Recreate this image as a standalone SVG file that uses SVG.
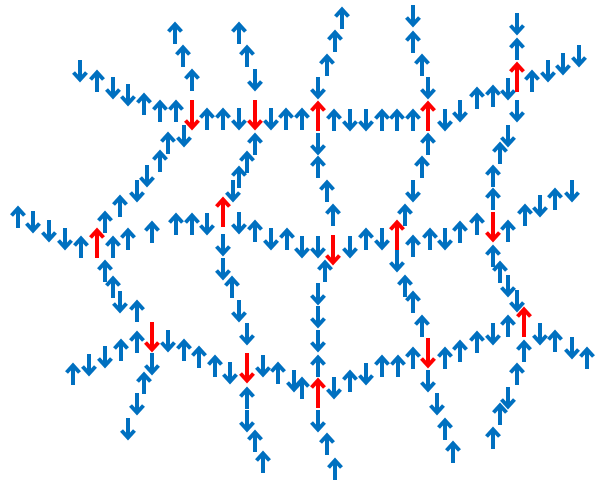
<svg xmlns="http://www.w3.org/2000/svg" width="600" height="481" viewBox="0 0 600 481">
<style>
.b{stroke:#0070C0;stroke-width:4;fill:none;stroke-linejoin:miter;stroke-miterlimit:10}
.r{stroke:#FF0000;stroke-width:4;fill:none;stroke-linejoin:miter;stroke-miterlimit:10}
</style>
<defs>
<path id="u" class="b" d="M0,11V-8M-6.5,-1.5L0,-8.5L6.5,-1.5"/>
<path id="d" class="b" d="M0,-11V8M-6.5,1.5L0,8.5L6.5,1.5"/>
<path id="U" class="r" d="M0,15V-12M-6.5,-5.5L0,-12.5L6.5,-5.5"/>
<path id="D" class="r" d="M0,-15V12M-6.5,5.5L0,12.5L6.5,5.5"/>
</defs>
<rect width="600" height="481" fill="#fff"/>
<g id="links">
<g id="row1">
<use href="#d" x="80" y="71"/><use href="#u" x="97" y="81"/><use href="#d" x="113" y="88"/><use href="#d" x="128" y="95"/><use href="#u" x="144" y="104"/><use href="#u" x="160" y="111"/><use href="#u" x="176" y="111"/>
<use href="#u" x="207" y="119"/><use href="#u" x="223" y="119"/><use href="#d" x="239" y="119"/>
<use href="#d" x="271" y="119"/><use href="#u" x="286" y="119"/><use href="#u" x="302" y="119"/>
<use href="#u" x="334" y="120"/><use href="#d" x="350" y="120"/><use href="#d" x="366" y="120"/><use href="#u" x="382" y="120"/><use href="#u" x="397" y="120"/><use href="#u" x="413" y="120"/>
<use href="#d" x="445" y="120"/><use href="#d" x="460" y="111"/><use href="#u" x="477" y="98"/><use href="#u" x="493" y="96"/><use href="#d" x="508" y="89"/>
<use href="#u" x="532" y="81"/><use href="#d" x="548" y="71"/><use href="#d" x="563" y="64"/><use href="#d" x="579" y="56"/>
</g>
<g id="top-chains">
<use href="#u" x="175" y="33"/><use href="#u" x="183" y="56"/><use href="#u" x="192" y="80"/>
<use href="#u" x="239" y="33"/><use href="#u" x="247" y="56"/><use href="#d" x="255" y="80"/>
<use href="#u" x="342" y="18"/><use href="#u" x="335" y="41"/><use href="#u" x="327" y="65"/><use href="#d" x="318" y="88"/>
<use href="#d" x="413" y="16"/><use href="#u" x="413" y="42"/><use href="#u" x="422" y="65"/><use href="#d" x="428" y="88"/>
<use href="#d" x="517" y="24"/><use href="#u" x="517" y="49"/>
</g>
<g id="cols12">
<use href="#d" x="184" y="136"/><use href="#u" x="168" y="143"/><use href="#u" x="160" y="161"/><use href="#d" x="147" y="176"/><use href="#d" x="137" y="191"/><use href="#u" x="120" y="206"/><use href="#u" x="105" y="222"/>
<use href="#u" x="255" y="144"/><use href="#u" x="247" y="162"/><use href="#u" x="239" y="177"/><use href="#d" x="233" y="191"/>
<use href="#d" x="318" y="144"/><use href="#u" x="318" y="167"/><use href="#u" x="327" y="191"/><use href="#u" x="333" y="215"/>
<use href="#u" x="428" y="144"/><use href="#u" x="422" y="167"/><use href="#d" x="413" y="191"/><use href="#u" x="405" y="215"/>
<use href="#d" x="517" y="111"/><use href="#d" x="508" y="136"/><use href="#u" x="500" y="153"/><use href="#u" x="493" y="176"/><use href="#u" x="493" y="199"/>
</g>
<g id="row2">
<use href="#u" x="18" y="217"/><use href="#d" x="33" y="222"/><use href="#d" x="49" y="231"/><use href="#d" x="65" y="239"/><use href="#u" x="81" y="247"/>
<use href="#u" x="113" y="247"/><use href="#u" x="128" y="239"/><use href="#u" x="152" y="232"/><use href="#u" x="176" y="224"/><use href="#u" x="192" y="224"/><use href="#d" x="207" y="224"/>
<use href="#d" x="239" y="223"/><use href="#u" x="255" y="231"/><use href="#d" x="271" y="239"/><use href="#u" x="287" y="239"/><use href="#d" x="302" y="247"/><use href="#d" x="318" y="247"/>
<use href="#d" x="350" y="247"/><use href="#u" x="366" y="239"/><use href="#d" x="382" y="239"/>
<use href="#u" x="413" y="246"/><use href="#u" x="430" y="239"/><use href="#d" x="445" y="239"/><use href="#u" x="460" y="232"/><use href="#u" x="477" y="224"/>
<use href="#u" x="508" y="231"/><use href="#u" x="525" y="215"/><use href="#d" x="540" y="206"/><use href="#u" x="555" y="199"/><use href="#d" x="572" y="191"/>
</g>
<g id="cols23">
<use href="#u" x="105" y="271"/><use href="#u" x="113" y="287"/><use href="#d" x="120" y="302"/><use href="#u" x="137" y="311"/>
<use href="#d" x="223" y="245"/><use href="#d" x="223" y="269"/><use href="#u" x="232" y="287"/><use href="#d" x="239" y="311"/><use href="#d" x="247" y="334"/>
<use href="#u" x="325" y="271"/><use href="#d" x="318" y="294"/><use href="#d" x="318" y="317"/><use href="#d" x="318" y="341"/><use href="#u" x="318" y="366"/>
<use href="#d" x="397" y="261"/><use href="#u" x="405" y="286"/><use href="#u" x="413" y="302"/><use href="#u" x="422" y="326"/>
<use href="#u" x="493" y="256"/><use href="#u" x="500" y="272"/><use href="#d" x="508" y="286"/><use href="#d" x="517" y="301"/>
</g>
<g id="row3">
<use href="#u" x="73" y="374"/><use href="#d" x="89" y="365"/><use href="#d" x="105" y="357"/><use href="#u" x="121" y="350"/><use href="#u" x="137" y="342"/>
<use href="#d" x="168" y="341"/><use href="#u" x="184" y="350"/><use href="#u" x="199" y="357"/><use href="#u" x="215" y="366"/><use href="#d" x="230" y="373"/>
<use href="#d" x="263" y="366"/><use href="#u" x="278" y="373"/><use href="#d" x="294" y="381"/><use href="#u" x="302" y="388"/>
<use href="#d" x="334" y="388"/><use href="#u" x="350" y="381"/><use href="#d" x="366" y="374"/><use href="#u" x="382" y="366"/><use href="#u" x="398" y="366"/><use href="#u" x="413" y="358"/>
<use href="#u" x="445" y="358"/><use href="#u" x="460" y="351"/><use href="#u" x="477" y="342"/><use href="#d" x="493" y="334"/><use href="#u" x="508" y="326"/>
<use href="#d" x="540" y="334"/><use href="#u" x="555" y="341"/><use href="#d" x="572" y="348"/><use href="#u" x="587" y="358"/>
</g>
<g id="bottom-chains">
<use href="#d" x="152" y="364"/><use href="#u" x="144" y="383"/><use href="#d" x="137" y="404"/><use href="#d" x="128" y="429"/>
<use href="#u" x="247" y="398"/><use href="#d" x="247" y="421"/><use href="#u" x="255" y="441"/><use href="#u" x="263" y="462"/>
<use href="#d" x="318" y="421"/><use href="#u" x="327" y="444"/><use href="#u" x="335" y="469"/>
<use href="#d" x="428" y="381"/><use href="#d" x="437" y="404"/><use href="#u" x="445" y="429"/><use href="#u" x="453" y="452"/>
<use href="#u" x="524" y="351"/><use href="#u" x="517" y="374"/><use href="#d" x="508" y="398"/><use href="#u" x="500" y="414"/><use href="#u" x="493" y="438"/>
</g>
</g>
<g id="v1"><use href="#D" x="192" y="115"/></g>
<g id="v2"><use href="#D" x="255" y="115"/></g>
<g id="v3"><use href="#U" x="318" y="116"/></g>
<g id="v4"><use href="#U" x="428" y="116"/></g>
<g id="v5"><use href="#U" x="517" y="77"/></g>
<g id="v6"><use href="#U" x="97" y="243"/></g>
<g id="v7"><use href="#U" x="223" y="212"/></g>
<g id="v8"><use href="#D" x="333" y="250"/></g>
<g id="v9"><use href="#U" x="397" y="235"/></g>
<g id="v10"><use href="#D" x="493" y="227"/></g>
<g id="v11"><use href="#D" x="152" y="337"/></g>
<g id="v12"><use href="#D" x="247" y="368"/></g>
<g id="v13"><use href="#U" x="318" y="393"/></g>
<g id="v14"><use href="#D" x="428" y="353"/></g>
<g id="v15"><use href="#U" x="524" y="322"/></g>
</svg>
